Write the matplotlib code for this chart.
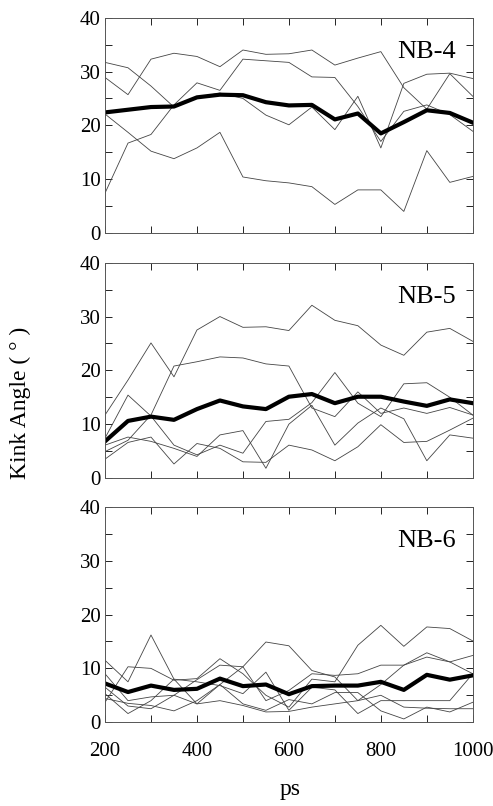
import numpy as np
import matplotlib
matplotlib.use("Agg")
import matplotlib.pyplot as plt
from matplotlib.ticker import MultipleLocator

plt.rcParams['font.family'] = ['Liberation Serif', 'DejaVu Serif']

ps = list(range(200, 1001, 50))

# NB-4
nb4_mean = [22.4, 22.9, 23.4, 23.5, 25.2, 25.7, 25.6, 24.3, 23.7, 23.8, 21.1, 22.2, 18.5, 20.6, 22.8, 22.3, 20.5]
nb4_runs = [
    [28.9, 25.7, 32.3, 33.4, 32.8, 30.9, 34.0, 33.2, 33.3, 34.0, 31.2, 32.5, 33.7, 27.0, 23.0, 29.6, 25.4],
    [31.7, 30.7, 27.3, 23.4, 25.2, 26.0, 25.0, 21.9, 20.1, 23.4, 19.2, 25.4, 15.8, 27.8, 29.5, 29.7, 28.7],
    [22.1, 18.7, 15.2, 13.8, 15.8, 18.7, 10.4, 9.7, 9.3, 8.6, 5.3, 8.0, 8.0, 4.0, 15.3, 9.4, 10.5],
    [7.4, 16.7, 18.3, 23.8, 27.9, 26.5, 32.3, 32.0, 31.7, 29.0, 28.9, 23.5, 17.0, 22.6, 23.8, 22.0, 18.9],
]

# NB-5
nb5_mean = [6.8, 10.6, 11.4, 10.8, 12.8, 14.4, 13.3, 12.8, 15.1, 15.6, 13.9, 15.1, 15.1, 14.2, 13.4, 14.6, 13.9]
nb5_runs = [
    [11.7, 18.2, 25.1, 18.8, 27.5, 30.0, 28.0, 28.1, 27.4, 32.1, 29.3, 28.3, 24.7, 22.8, 27.1, 27.8, 25.4],
    [4.9, 7.0, 11.7, 20.8, 21.6, 22.5, 22.3, 21.2, 20.8, 13.0, 11.4, 16.0, 12.0, 13.0, 12.0, 13.1, 11.7],
    [7.4, 15.4, 11.5, 6.1, 4.3, 6.1, 4.6, 10.5, 10.9, 14.0, 19.6, 13.9, 11.4, 17.5, 17.7, 15.0, 11.7],
    [6.1, 7.6, 6.8, 5.5, 4.0, 8.0, 8.8, 1.8, 10.0, 13.5, 6.1, 10.2, 13.0, 11.0, 3.2, 8.0, 7.4],
    [3.5, 6.6, 7.6, 2.6, 6.4, 5.5, 3.0, 2.9, 6.1, 5.2, 3.2, 5.8, 9.9, 6.6, 6.8, 8.9, 11.1],
]

# NB-6
nb6_mean = [7.2, 5.6, 6.8, 6.0, 6.2, 8.1, 6.7, 7.0, 5.2, 6.7, 6.8, 6.8, 7.5, 6.0, 8.8, 7.9, 8.7]
nb6_runs = [
    [11.5, 7.5, 16.2, 8.0, 3.4, 7.0, 10.3, 14.9, 14.2, 9.6, 8.4, 4.0, 7.0, 10.6, 12.9, 11.2, 9.0],
    [3.7, 10.3, 10.0, 7.8, 8.1, 11.8, 9.0, 5.0, 2.8, 8.0, 7.5, 14.3, 18.0, 14.1, 17.7, 17.4, 15.1],
    [9.0, 4.0, 4.7, 5.0, 7.9, 10.6, 10.3, 4.0, 5.9, 9.0, 8.7, 9.0, 10.6, 10.6, 12.1, 11.2, 12.4],
    [5.3, 1.6, 4.0, 8.0, 7.5, 6.8, 5.3, 9.3, 2.2, 6.5, 6.0, 1.6, 4.0, 4.0, 4.0, 4.0, 9.0],
    [4.4, 3.5, 3.1, 2.1, 4.0, 7.0, 3.4, 2.2, 4.2, 3.4, 5.5, 5.5, 2.1, 0.6, 2.8, 1.9, 3.7],
    [6.5, 3.0, 2.5, 5.0, 3.4, 4.0, 3.1, 1.9, 2.0, 2.8, 3.4, 4.0, 5.0, 2.8, 2.6, 2.5, 2.5],
]

panels = [("NB-4", nb4_mean, nb4_runs), ("NB-5", nb5_mean, nb5_runs), ("NB-6", nb6_mean, nb6_runs)]

fig = plt.figure(figsize=(4.93, 8.06), dpi=100)
left, width = 0.213, 0.746
bottoms = [0.711, 0.407, 0.104]
height = 0.267

for i, (name, mean, runs) in enumerate(panels):
    ax = fig.add_axes([left, bottoms[i], width, height])
    for r in runs:
        ax.plot(ps, r, color='#444444', lw=0.6)
    ax.plot(ps, mean, color='black', lw=3)
    ax.set_xlim(200, 1000)
    ax.set_ylim(0, 40)
    ax.xaxis.set_major_locator(MultipleLocator(100))
    ax.yaxis.set_major_locator(MultipleLocator(5))
    ax.set_yticklabels(['%d' % v if v % 10 == 0 else '' for v in ax.get_yticks()])
    if i == 2:
        ax.set_xticklabels(['%d' % v if v % 200 == 0 else '' for v in ax.get_xticks()])
    else:
        ax.set_xticklabels([])
    ax.tick_params(direction='in', top=True, right=True, length=5, width=0.6, labelsize=15)
    ax.tick_params(axis='y', pad=3)
    ax.tick_params(axis='x', pad=14)
    for s in ax.spines.values():
        s.set_linewidth(0.7)
        s.set_color('#555555')
    ax.text(0.955, 0.84, name, transform=ax.transAxes, ha='right', va='center', fontsize=19)

fig.text(0.042, 0.5, 'Kink Angle ( ° )', rotation=90, ha='center', va='center', fontsize=17)
fig.text(0.588, 0.02, 'ps', ha='center', va='center', fontsize=17)

fig.savefig('out.png', dpi=100)
